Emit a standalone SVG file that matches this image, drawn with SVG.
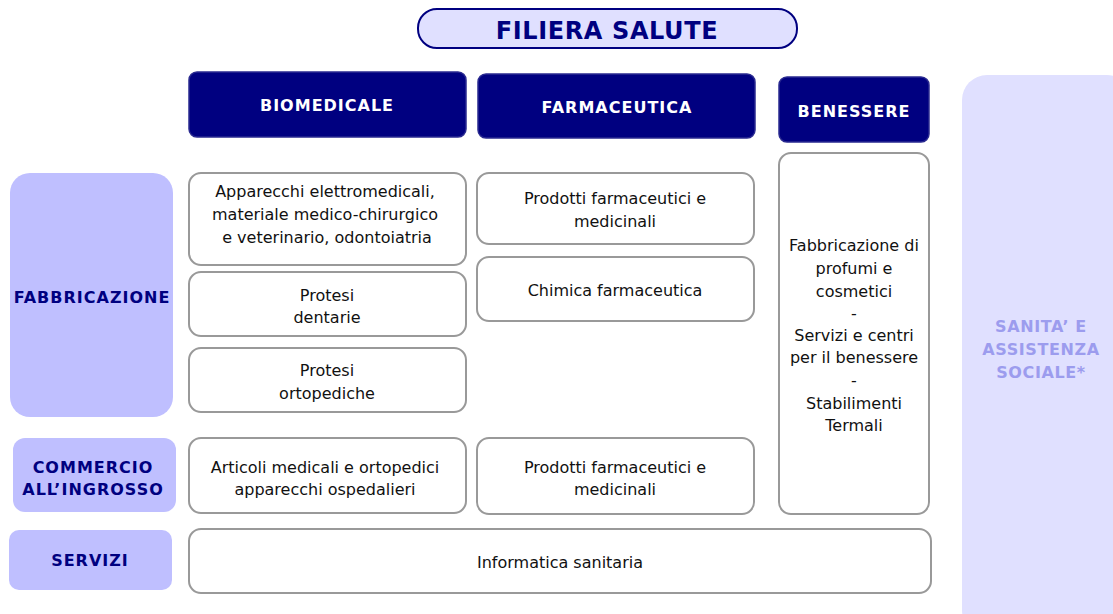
<svg xmlns="http://www.w3.org/2000/svg" width="1113" height="614" viewBox="0 0 1113 614">
<style>
.cat{fill:#000080;stroke:#2a2a90;stroke-width:1.5}
.row{fill:#BFBFFF;stroke:none}
.box{fill:#ffffff;stroke:#999999;stroke-width:2}
.t{font-family:"DejaVu Sans",Verdana,sans-serif;font-size:16px;fill:#111111;text-anchor:middle}
.ct{font-family:"DejaVu Sans",Verdana,sans-serif;font-size:16px;font-weight:bold;fill:#ffffff;text-anchor:middle;letter-spacing:1px}
.rt{font-family:"DejaVu Sans",Verdana,sans-serif;font-size:16px;font-weight:bold;fill:#000080;text-anchor:middle;letter-spacing:1px}
.st{font-family:"DejaVu Sans",Verdana,sans-serif;font-size:16px;font-weight:bold;fill:#9C9CEE;text-anchor:middle;letter-spacing:0.6px}
</style>
<rect width="1113" height="614" fill="#ffffff"/>
<g id="title">
<rect x="418" y="9" width="379" height="39" rx="19" fill="#E0E0FF" stroke="#000080" stroke-width="2"/>
<text x="607" y="39" font-family="DejaVu Sans,Verdana,sans-serif" font-size="24" font-weight="bold" fill="#000080" text-anchor="middle" letter-spacing="0.6">FILIERA SALUTE</text>
</g>
<g id="biomedicale">
<rect class="cat" x="189" y="72" width="277" height="65" rx="8"/>
<text class="ct" x="327" y="111">BIOMEDICALE</text>
</g>
<g id="farmaceutica">
<rect class="cat" x="478" y="74" width="277" height="64" rx="8"/>
<text class="ct" x="617" y="113">FARMACEUTICA</text>
</g>
<g id="benessere">
<rect class="cat" x="779" y="77" width="150" height="65" rx="8"/>
<text class="ct" x="854" y="117">BENESSERE</text>
</g>
<g id="sanita">
<rect x="962" y="75" width="170" height="560" rx="25" fill="#E0E0FF"/>
<text class="st" x="1041" y="332">SANITA’ E</text>
<text class="st" x="1041" y="355">ASSISTENZA</text>
<text class="st" x="1041" y="378">SOCIALE*</text>
</g>
<g id="fabbricazione">
<rect class="row" x="10" y="173" width="163" height="244" rx="20"/>
<text class="rt" x="92" y="303">FABBRICAZIONE</text>
</g>
<g id="commercio">
<rect class="row" x="13" y="438" width="163" height="74" rx="12"/>
<text class="rt" x="93" y="473">COMMERCIO</text>
<text class="rt" x="93" y="495">ALL’INGROSSO</text>
</g>
<g id="servizi">
<rect class="row" x="9" y="530" width="163" height="60" rx="10"/>
<text class="rt" x="90" y="566">SERVIZI</text>
</g>
<g id="apparecchi">
<rect class="box" x="189" y="173" width="277" height="92" rx="12"/>
<text class="t" x="325" y="197">Apparecchi elettromedicali,</text>
<text class="t" x="325" y="220">materiale medico-chirurgico</text>
<text class="t" x="327" y="243">e veterinario, odontoiatria</text>
</g>
<g id="protesi-dentarie">
<rect class="box" x="189" y="272" width="277" height="64" rx="12"/>
<text class="t" x="327" y="301">Protesi</text>
<text class="t" x="327" y="323">dentarie</text>
</g>
<g id="protesi-ortopediche">
<rect class="box" x="189" y="348" width="277" height="64" rx="12"/>
<text class="t" x="327" y="376">Protesi</text>
<text class="t" x="327" y="399">ortopediche</text>
</g>
<g id="articoli">
<rect class="box" x="189" y="438" width="277" height="75" rx="12"/>
<text class="t" x="325" y="473">Articoli medicali e ortopedici</text>
<text class="t" x="325" y="495">apparecchi ospedalieri</text>
</g>
<g id="prodotti-farm">
<rect class="box" x="477" y="173" width="277" height="71" rx="12"/>
<text class="t" x="615" y="204">Prodotti farmaceutici e</text>
<text class="t" x="615" y="227">medicinali</text>
</g>
<g id="chimica">
<rect class="box" x="477" y="257" width="277" height="64" rx="12"/>
<text class="t" x="615" y="296">Chimica farmaceutica</text>
</g>
<g id="prodotti-farm-comm">
<rect class="box" x="477" y="438" width="277" height="76" rx="12"/>
<text class="t" x="615" y="473">Prodotti farmaceutici e</text>
<text class="t" x="615" y="495">medicinali</text>
</g>
<g id="benessere-box">
<rect class="box" x="779" y="153" width="150" height="361" rx="12"/>
<text class="t" x="854" y="251">Fabbricazione di</text>
<text class="t" x="854" y="274">profumi e</text>
<text class="t" x="854" y="297">cosmetici</text>
<text class="t" x="854" y="319">-</text>
<text class="t" x="854" y="341">Servizi e centri</text>
<text class="t" x="854" y="363">per il benessere</text>
<text class="t" x="854" y="386">-</text>
<text class="t" x="854" y="409">Stabilimenti</text>
<text class="t" x="854" y="431">Termali</text>
</g>
<g id="informatica">
<rect class="box" x="189" y="529" width="742" height="64" rx="12"/>
<text class="t" x="560" y="568">Informatica sanitaria</text>
</g>
<g id="connectors"></g>
</svg>
